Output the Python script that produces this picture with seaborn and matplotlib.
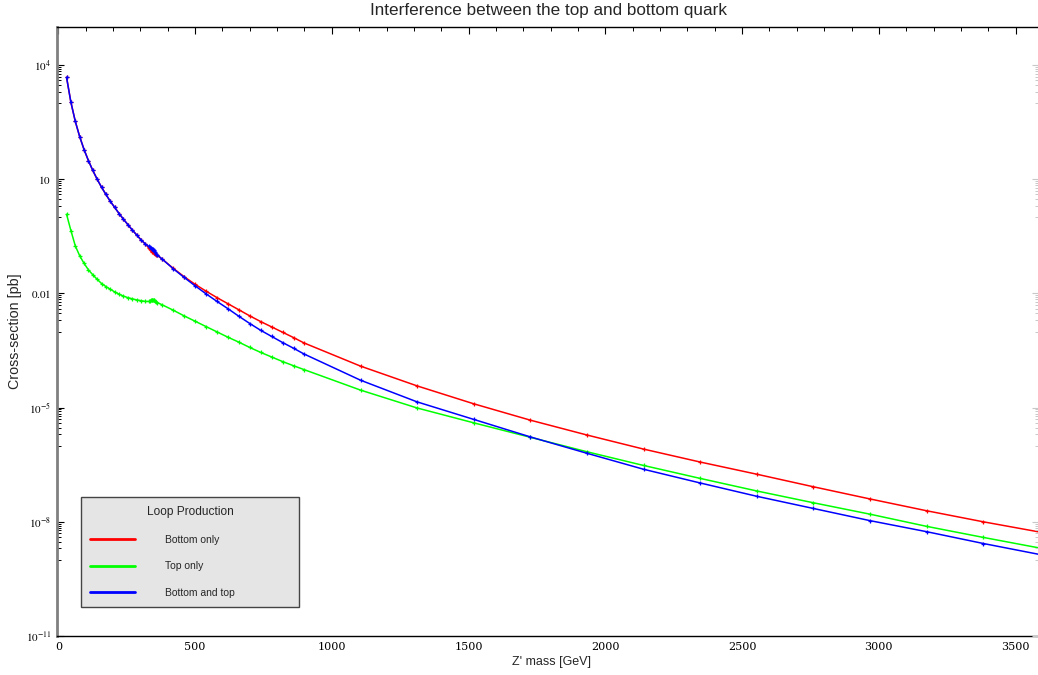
import matplotlib
matplotlib.use("Agg")
import numpy as np
import pandas as pd
import matplotlib.pyplot as plt
import seaborn as sns
from matplotlib.lines import Line2D
from matplotlib.ticker import FixedLocator, FixedFormatter, NullFormatter, MultipleLocator

# ---------------- data (log10 of cross-section in pb) ----------------
mass_gev = [30, 46, 62, 78, 94, 110, 126, 142, 158, 174, 190, 206, 222, 238, 254, 270, 286, 302, 318,
            330, 334, 338, 342, 344, 346, 348, 350, 354, 358, 362,
            380, 420, 460, 500, 540, 580, 620, 660, 700, 740, 780, 820, 860, 898,
            1105, 1312, 1519, 1726, 1933, 2140, 2347, 2554, 2761, 2968, 3175, 3382, 3589]

log10_bottom_only = [3.68, 3.02, 2.52, 2.12, 1.78, 1.49, 1.23, 1.00, 0.79, 0.60, 0.42, 0.26, 0.10, -0.05, -0.19, -0.33, -0.46, -0.59, -0.70,
                     -0.80, -0.83, -0.86, -0.89, -0.91, -0.92, -0.93, -0.94, -0.96, -0.98, -1.00,
                     -1.10, -1.34, -1.56, -1.76, -1.94, -2.11, -2.27, -2.43, -2.59, -2.74, -2.88, -3.02, -3.16, -3.30,
                     -3.91, -4.43, -4.90, -5.33, -5.72, -6.09, -6.43, -6.75, -7.08, -7.40, -7.71, -8.00, -8.27]

log10_top_only = [0.08, -0.35, -0.75, -1.01, -1.21, -1.38, -1.51, -1.63, -1.74, -1.82, -1.89, -1.96, -2.02, -2.07, -2.11, -2.14, -2.17, -2.19, -2.21,
                  -2.21, -2.20, -2.18, -2.16, -2.16, -2.16, -2.17, -2.18, -2.20, -2.22, -2.24,
                  -2.30, -2.44, -2.59, -2.73, -2.87, -3.01, -3.15, -3.28, -3.42, -3.55, -3.67, -3.79, -3.90, -4.00,
                  -4.54, -5.01, -5.40, -5.78, -6.16, -6.52, -6.86, -7.19, -7.50, -7.80, -8.12, -8.41, -8.69]

log10_bottom_and_top = [3.68, 3.02, 2.52, 2.12, 1.78, 1.49, 1.23, 1.00, 0.79, 0.60, 0.42, 0.26, 0.10, -0.05, -0.19, -0.33, -0.46, -0.59, -0.70,
                        -0.76, -0.78, -0.80, -0.82, -0.83, -0.84, -0.86, -0.88, -0.92, -0.96, -0.99,
                        -1.10, -1.35, -1.58, -1.80, -2.01, -2.21, -2.40, -2.60, -2.79, -2.97, -3.13, -3.29, -3.44, -3.59,
                        -4.28, -4.85, -5.31, -5.77, -6.20, -6.62, -6.98, -7.33, -7.65, -7.97, -8.26, -8.57, -8.86]

series_names = ["Bottom only", "Top only", "Bottom and top"]
series_colors = ["#ff0000", "#00ff00", "#0000ff"]

y_major_ticks = [1e4, 1e1, 1e-2, 1e-5, 1e-8, 1e-11]
y_major_labels = [r"$10^{4}$", r"$10$", r"$0.01$", r"$10^{-5}$", r"$10^{-8}$", r"$10^{-11}$"]
x_major_ticks = [0, 500, 1000, 1500, 2000, 2500, 3000, 3500]

title_text = "Interference between the top and bottom quark"
x_label = "Z' mass [GeV]"
y_label = "Cross-section [pb]"
legend_title = "Loop Production"

# ---------------- build long-form table ----------------
frames = []
for name, logs in zip(series_names, [log10_bottom_only, log10_top_only, log10_bottom_and_top]):
    frames.append(pd.DataFrame({"mass": mass_gev,
                                "xsec": np.power(10.0, np.array(logs)),
                                "series": name}))
df = pd.concat(frames, ignore_index=True)

# ---------------- figure ----------------
sns.set_theme(style="white")
plt.rcParams["font.family"] = ["Liberation Sans", "DejaVu Sans"]
plt.rcParams["mathtext.fontset"] = "stix"

W, H = 1038, 675
fig = plt.figure(figsize=(W / 100, H / 100), dpi=100)
left_px, right_px, top_px, bottom_px = 56.7, 1037.5, 27, 636
ax = fig.add_axes([left_px / W, 1 - bottom_px / H, (right_px - left_px) / W, (bottom_px - top_px) / H])

sns.lineplot(data=df, x="mass", y="xsec", hue="series", hue_order=series_names,
             palette=dict(zip(series_names, series_colors)), estimator=None, sort=False,
             linewidth=1.1, marker="+", markersize=3.5, markeredgewidth=0.9, markeredgecolor="auto",
             legend=False, ax=ax)

ax.set_yscale("log")
ax.set_ylim(1e-11, 1e5)
ax.set_xlim(-6, 3580)
ax.set_xlabel("")
ax.set_ylabel("")

# y ticks (Mathematica style: minor ticks only in the decade under each labelled tick)
minor_y = []
for t in y_major_ticks[:-1]:
    for k in range(1, 10):
        minor_y.append(k * t / 10.0)

ax.yaxis.set_major_locator(FixedLocator(y_major_ticks))
ax.yaxis.set_major_formatter(FixedFormatter(y_major_labels))
ax.yaxis.set_minor_locator(FixedLocator(minor_y))
ax.yaxis.set_minor_formatter(NullFormatter())

ax.xaxis.set_major_locator(FixedLocator(x_major_ticks))
ax.xaxis.set_minor_locator(MultipleLocator(100))

ax.tick_params(axis="both", which="both", direction="in", top=True, right=False,
               labelsize=8, pad=4, colors="black")
ax.tick_params(axis="both", which="major", length=5, width=0.8)
ax.tick_params(axis="both", which="minor", length=3, width=0.7)
for lab in ax.get_xticklabels() + ax.get_yticklabels():
    lab.set_fontfamily("serif")

for s in ["top", "bottom"]:
    ax.spines[s].set_color("black")
    ax.spines[s].set_linewidth(1.0)
ax.spines["left"].set_color("#808080")
ax.spines["left"].set_linewidth(2.0)
ax.spines["right"].set_visible(False)

# faint right-hand ticks (twin axis sharing the same log scale)
ax2 = ax.twinx()
ax2.set_yscale("log")
ax2.set_ylim(ax.get_ylim())
ax2.yaxis.set_major_locator(FixedLocator(y_major_ticks))
ax2.yaxis.set_minor_locator(FixedLocator(minor_y))
ax2.yaxis.set_major_formatter(NullFormatter())
ax2.yaxis.set_minor_formatter(NullFormatter())
ax2.tick_params(axis="y", which="both", direction="in", right=True, colors="#c8c8c8")
ax2.tick_params(axis="y", which="major", length=4, width=0.8)
ax2.tick_params(axis="y", which="minor", length=2.5, width=0.7)
for s in ax2.spines.values():
    s.set_visible(False)
ax2.grid(False)

# text
fig.text(548 / W, 1 - 11 / H, title_text, ha="center", va="center", fontsize=12.3)
fig.text(15 / W, 1 - 331 / H, y_label, ha="center", va="center", rotation=90, fontsize=10.3)
fig.text(551 / W, 1 - 662 / H, x_label, ha="center", va="center", fontsize=9)

# legend
handles = [Line2D([0], [0], color=c, lw=2.0) for c in series_colors]
x0 = (81 - left_px) / (right_px - left_px)
x1 = (299 - left_px) / (right_px - left_px)
y0 = (bottom_px - 607) / (bottom_px - top_px)
leg = ax2.legend(handles, series_names, title=legend_title, loc="lower left",
                 bbox_to_anchor=(x0, y0, x1 - x0, 0.2), mode="expand", borderaxespad=0,
                 fontsize=7.5, title_fontsize=8.6, frameon=True, fancybox=False,
                 handlelength=4.3, handletextpad=2.9, labelspacing=1.6, borderpad=0.85)
frame = leg.get_frame()
frame.set_facecolor("#e5e5e5")
frame.set_edgecolor("#444444")
frame.set_linewidth(1.0)
frame.set_alpha(1.0)

fig.savefig("out.png", dpi=100)
